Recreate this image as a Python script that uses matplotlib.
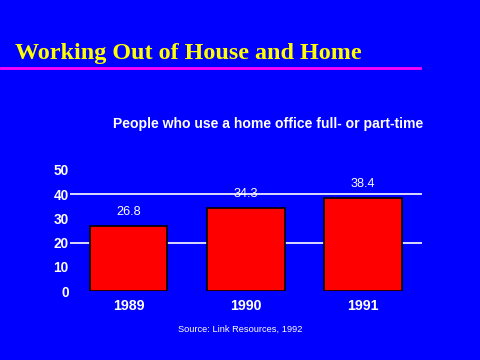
import matplotlib
matplotlib.use("Agg")
import matplotlib.pyplot as plt
from matplotlib.lines import Line2D

years = ["1989", "1990", "1991"]
values = [26.8, 34.3, 38.4]
yticks = [0, 10, 20, 30, 40, 50]
gridlines = [20, 40]

title = "Working Out of House and Home"
subtitle = "People who use a home office full- or part-time"
source = "Source: Link Resources, 1992"

BLUE = "#0000FF"
fig = plt.figure(figsize=(4.8, 3.6), dpi=100, facecolor=BLUE)

ax = fig.add_axes([70/480, 1-291.3/360, (421.7-70)/480, (291.3-169.7)/360])
ax.set_facecolor(BLUE)
for g in gridlines:
    ax.axhline(g, color="white", lw=1.2, zorder=1)
x = list(range(len(years)))
bars = ax.bar(x, values, width=0.66, color="#FF0000", edgecolor="black", lw=1.2, zorder=2)
for xi, v in zip(x, values):
    ax.annotate(f"{v}", (xi, v), xytext=(0, 5.5), textcoords="offset points",
                ha="center", va="bottom", color="white", fontsize=9.2,
                family="Liberation Sans")
ax.set_xlim(-0.5, 2.5)
ax.set_ylim(0, 50)
ax.set_yticks(yticks)
ax.set_yticklabels([str(t) for t in yticks], color="white", fontsize=9.8,
                   fontweight="bold", family="Liberation Sans")
ax.set_xticks(x)
ax.set_xticklabels(years, color="white", fontsize=10.2, fontweight="bold",
                   family="Liberation Sans")
ax.tick_params(axis="y", length=0, pad=1)
ax.tick_params(axis="x", length=0, pad=5.5)
for s in ax.spines.values():
    s.set_visible(False)

fig.text(15/480, 1-59/360, title, color="#FFFF00", fontsize=17.4, fontweight="bold",
         family="Liberation Serif", ha="left", va="baseline")
fig.add_artist(Line2D([1/480, 420/480], [1-67.7/360, 1-67.7/360], color="#FF00FF",
                      lw=2, transform=fig.transFigure))
fig.text(268/480, 1-128/360, subtitle, color="white", fontsize=10.1, fontweight="bold",
         family="Liberation Sans", ha="center", va="baseline")
fig.text(240.5/480, 1-332/360, source, color="white", fontsize=6.7,
         family="Liberation Sans", ha="center", va="baseline")

fig.savefig("out.png", dpi=100, facecolor=BLUE)
